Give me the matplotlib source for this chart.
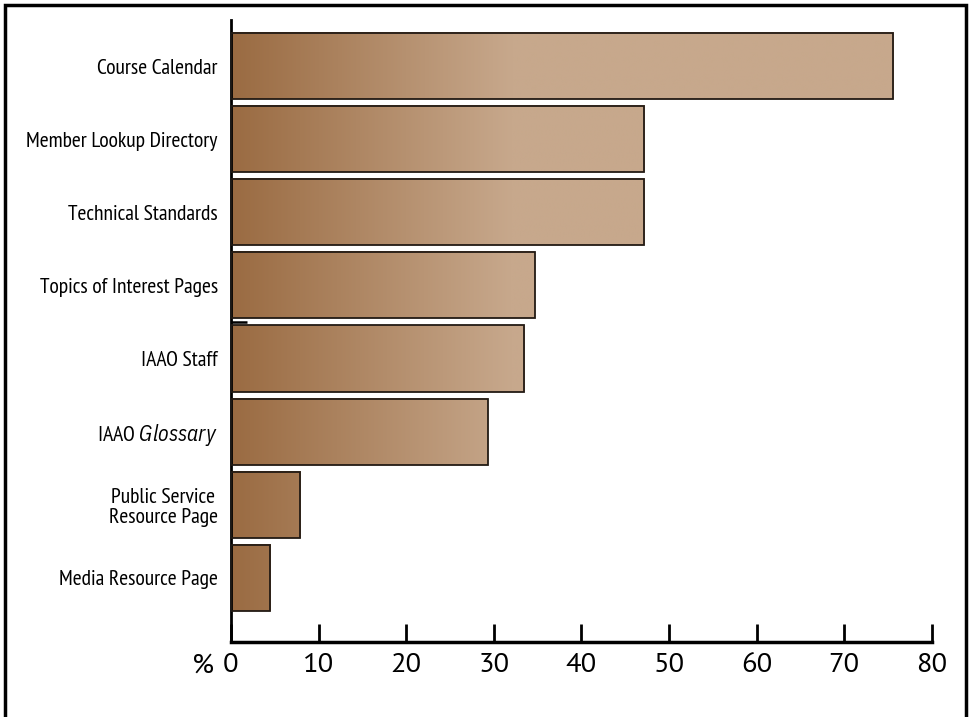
import numpy as np
import matplotlib
matplotlib.use("Agg")
import matplotlib.pyplot as plt
from matplotlib.colors import to_rgb
from matplotlib.patches import Rectangle

categories = ["Course Calendar", "Member Lookup Directory", "Technical Standards",
              "Topics of Interest Pages", "IAAO Staff", "IAAO $\\it{Glossary}$",
              "Public Service\nResource Page", "Media Resource Page"]
values = [75.6, 47.2, 47.2, 34.7, 33.5, 29.3, 7.9, 4.5]
xticks = [0, 10, 20, 30, 40, 50, 60, 70, 80]

LABEL_FONT = ['PT Sans Narrow', 'IBM Plex Sans Condensed', 'DejaVu Sans']
TICK_FONT = ['PT Sans', 'Open Sans', 'DejaVu Sans']

plt.rcParams['mathtext.fontset'] = 'custom'
plt.rcParams['mathtext.rm'] = 'PT Sans Narrow'
plt.rcParams['mathtext.it'] = 'IBM Plex Sans Condensed:italic'

dark = np.array(to_rgb("#9a6b42"))
light = np.array(to_rgb("#c7a88c"))
grad_end = 32.0

fig = plt.figure(figsize=(9.69, 7.17), dpi=100)
ax = fig.add_axes([231/969, 1-642/717, (931.7-231)/969, (642-20)/717])

ypos = np.arange(len(categories))
bars = ax.barh(ypos, values, height=0.904, facecolor='none',
               edgecolor='#221a14', linewidth=1.3, zorder=3)

for b in bars:
    x0, y0 = b.get_x(), b.get_y()
    w, h = b.get_width(), b.get_height()
    xs = np.linspace(x0, x0 + w, 300)
    t = np.clip(xs / grad_end, 0, 1)
    cols = dark[None, :] * (1 - t[:, None]) + light[None, :] * t[:, None]
    ax.imshow(cols[None, :, :], extent=[x0, x0 + w, y0 + h, y0], aspect='auto',
              interpolation='bilinear', zorder=2)

# small stray mark from the original
ax.plot([0, 1.8], [3.5, 3.5], color='black', lw=1.8, zorder=4, solid_capstyle='butt')

ax.set_xlim(0, 80)
ax.set_ylim(7 + 0.877, -0.63)
ax.set_xticks(xticks)
ax.set_xticklabels([str(v) for v in xticks], fontsize=20.5, family=TICK_FONT)
ax.set_yticks(ypos)
ax.set_yticklabels(categories, fontsize=15.6, family=LABEL_FONT)
for lab in ax.get_yticklabels():
    lab.set_multialignment('center')
    lab.set_linespacing(1.1)

ax.tick_params(axis='x', direction='in', length=13, width=2, pad=8)
ax.tick_params(axis='y', length=0, pad=9.5)
for s in ['top', 'right']:
    ax.spines[s].set_visible(False)
ax.spines['left'].set_linewidth(2)
ax.spines['bottom'].set_linewidth(2.5)

# percent sign before the 0 tick label
ax.text(-1.9, -0.019, "%", transform=ax.get_xaxis_transform(),
        ha='right', va='top', fontsize=20.5, family=TICK_FONT, clip_on=False)

# figure frame
fig.patches.append(Rectangle((5/969, -0.05), (966-5)/969, 1.05 - 5/717,
                             transform=fig.transFigure, fill=False,
                             edgecolor='black', linewidth=2.5))

fig.savefig("out.png", dpi=100)
